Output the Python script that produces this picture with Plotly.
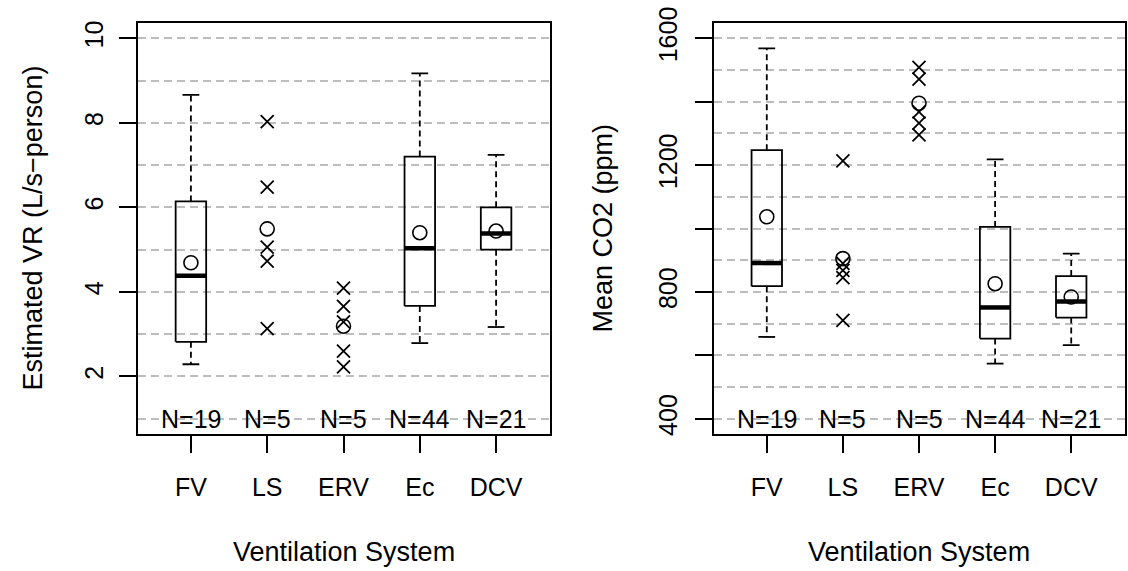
import plotly.graph_objects as go

# ---------------- data ----------------
categories = ["FV", "LS", "ERV", "Ec", "DCV"]
group_n = [19, 5, 5, 44, 21]

# Left panel: Estimated VR (L/s-person)
vr_box_groups = ["FV", "Ec", "DCV"]
vr_lower = [2.29, 2.79, 3.17]
vr_q1 = [2.82, 3.67, 5.00]
vr_median = [4.38, 5.03, 5.38]
vr_q3 = [6.14, 7.20, 6.00]
vr_upper = [8.66, 9.17, 7.24]
vr_points_LS = [8.03, 6.48, 5.06, 4.73, 3.13]
vr_points_ERV = [4.09, 3.66, 3.29, 2.60, 2.23]
vr_means = [4.69, 5.49, 3.19, 5.40, 5.44]

# Right panel: Mean CO2 (ppm)
co2_box_groups = ["FV", "Ec", "DCV"]
co2_lower = [658, 574, 632]
co2_q1 = [818, 653, 719]
co2_median = [891, 751, 770]
co2_q3 = [1247, 1005, 850]
co2_upper = [1568, 1218, 921]
co2_points_LS = [1213, 890, 868, 845, 710]
co2_points_ERV = [1508, 1471, 1368, 1332, 1295]
co2_means = [1037, 905, 1395, 826, 784]

vr_ticks = [2, 4, 6, 8, 10]
co2_ticks = [400, 600, 800, 1000, 1200, 1400, 1600]
co2_ticktext = ["400", "", "800", "", "1200", "", "1600"]

# ---------------- figure ----------------
W, H = 1128, 571
FONT = "Liberation Sans, Arial, Helvetica, sans-serif"
FS = 25
FS_TITLE = 27
BOX_HW = 0.2
STAPLE_HW = 0.11
LW = 1.8

fig = go.Figure()

def pos(cat):
    return categories.index(cat) + 1

def add_panel(xa, ya, groups, lower, q1, med, q3, upper, pts_ls, pts_erv, means):
    for g, lo, a, m, b, up in zip(groups, lower, q1, med, q3, upper):
        p = pos(g)
        # box outline
        fig.add_trace(go.Scatter(x=[p - BOX_HW, p + BOX_HW, p + BOX_HW, p - BOX_HW, p - BOX_HW],
                                 y=[a, a, b, b, a], mode="lines",
                                 line=dict(color="black", width=LW),
                                 xaxis=xa, yaxis=ya, showlegend=False, hoverinfo="skip"))
        # whiskers (dashed)
        for y0, y1 in [(b, up), (a, lo)]:
            fig.add_trace(go.Scatter(x=[p, p], y=[y0, y1], mode="lines",
                                     line=dict(color="black", width=LW, dash="6px,4px"),
                                     xaxis=xa, yaxis=ya, showlegend=False, hoverinfo="skip"))
        # staples
        for yy in [up, lo]:
            fig.add_trace(go.Scatter(x=[p - STAPLE_HW, p + STAPLE_HW], y=[yy, yy], mode="lines",
                                     line=dict(color="black", width=LW),
                                     xaxis=xa, yaxis=ya, showlegend=False, hoverinfo="skip"))
        # median
        fig.add_trace(go.Scatter(x=[p - BOX_HW, p + BOX_HW], y=[m, m], mode="lines",
                                 line=dict(color="black", width=4.5),
                                 xaxis=xa, yaxis=ya, showlegend=False, hoverinfo="skip"))
    # individual points for small groups
    for g, pts in [("LS", pts_ls), ("ERV", pts_erv)]:
        fig.add_trace(go.Scatter(x=[pos(g)] * len(pts), y=pts, mode="markers",
                                 marker=dict(symbol="x-thin-open", size=13, color="black",
                                             line=dict(color="black", width=1.8)),
                                 xaxis=xa, yaxis=ya, showlegend=False, hoverinfo="skip"))
    # means
    fig.add_trace(go.Scatter(x=list(range(1, len(categories) + 1)), y=means, mode="markers",
                             marker=dict(symbol="circle-open", size=14, color="black",
                                         line=dict(color="black", width=1.6)),
                             xaxis=xa, yaxis=ya, showlegend=False, hoverinfo="skip"))

add_panel("x", "y", vr_box_groups, vr_lower, vr_q1, vr_median, vr_q3, vr_upper,
          vr_points_LS, vr_points_ERV, vr_means)
add_panel("x2", "y2", co2_box_groups, co2_lower, co2_q1, co2_median, co2_q3, co2_upper,
          co2_points_LS, co2_points_ERV, co2_means)

# N labels
annotations = []
for i, n in enumerate(group_n):
    annotations.append(dict(x=i + 1, y=1, xref="x", yref="y", text=f"N={n}",
                            showarrow=False, font=dict(size=FS, color="black", family=FONT),
                            xanchor="center", yanchor="middle"))
    annotations.append(dict(x=i + 1, y=400, xref="x2", yref="y2", text=f"N={n}",
                            showarrow=False, font=dict(size=FS, color="black", family=FONT),
                            xanchor="center", yanchor="middle"))

# axis titles as annotations (pixel-positioned)
def px(xp):
    return xp / W

def py(yp):
    return 1 - yp / H

annotations += [
    dict(x=px(343.5), y=py(552), xref="paper", yref="paper", text="Ventilation System",
         showarrow=False, font=dict(size=FS_TITLE, color="black", family=FONT),
         xanchor="center", yanchor="middle"),
    dict(x=px(919), y=py(552), xref="paper", yref="paper", text="Ventilation System",
         showarrow=False, font=dict(size=FS_TITLE, color="black", family=FONT),
         xanchor="center", yanchor="middle"),
    dict(x=px(33), y=py(228.5), xref="paper", yref="paper", text="Estimated VR (L/s\u2212person)",
         showarrow=False, textangle=-90, font=dict(size=FS_TITLE, color="black", family=FONT),
         xanchor="center", yanchor="middle"),
    dict(x=px(603), y=py(228.5), xref="paper", yref="paper", text="Mean CO2 (ppm)",
         showarrow=False, textangle=-90, font=dict(size=FS_TITLE, color="black", family=FONT),
         xanchor="center", yanchor="middle"),
]

axis_common = dict(showline=True, linecolor="black", linewidth=LW, mirror=True,
                   ticks="outside", ticklen=17, tickwidth=LW, tickcolor="black",
                   tickfont=dict(size=FS, color="black", family=FONT), zeroline=False,
                   automargin=False)
grid_style = dict(showgrid=True, gridcolor="#bdbdbd", gridwidth=1.5, griddash="8px,5px")

xtick = dict(tickvals=list(range(1, len(categories) + 1)), ticktext=categories,
             range=[0.3, 5.7], showgrid=False, ticklabelstandoff=13)

fig.update_layout(
    width=W, height=H, margin=dict(l=0, r=0, t=0, b=0, autoexpand=False),
    paper_bgcolor="white", plot_bgcolor="white",
    font=dict(family=FONT, size=FS, color="black"),
    xaxis=dict(domain=[px(137.5), px(549.5)], anchor="y", **xtick, **axis_common),
    xaxis2=dict(domain=[px(713.5), px(1124.5)], anchor="y2", **xtick, **axis_common),
    yaxis=dict(domain=[py(434), py(23)], anchor="x", range=[0.64, 10.36],
               tickvals=vr_ticks, tickangle=-90, ticklabelstandoff=6,
               **axis_common, **grid_style,
               minor=dict(dtick=1, tick0=0, ticks="", **grid_style)),
    yaxis2=dict(domain=[py(434), py(23)], anchor="x2", range=[352, 1648],
                tickvals=co2_ticks, ticktext=co2_ticktext, tickangle=-90, ticklabelstandoff=8,
                **axis_common, **grid_style,
                minor=dict(dtick=100, tick0=0, ticks="", **grid_style)),
    annotations=annotations,
)

fig.write_html("out.html")
